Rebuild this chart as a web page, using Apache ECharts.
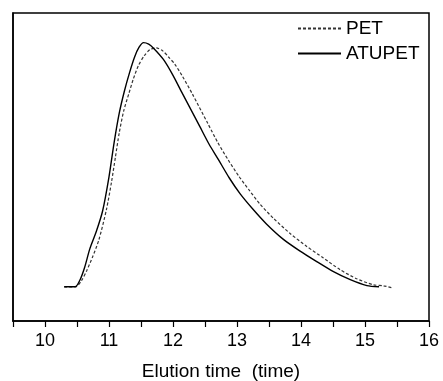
<!DOCTYPE html>
<html>
<head>
<meta charset="utf-8">
<script src="https://cdn.jsdelivr.net/npm/echarts@6/dist/echarts.min.js"></script>
<style>
  html, body { margin: 0; padding: 0; background: #fff; }
  #chart { width: 443px; height: 381px; }
</style>
</head>
<body>
<div id="chart"></div>
<script>
// elution curves, signal in arbitrary units (baseline = 0, ATUPET peak = 1)
var petTime = [10.30, 10.48, 10.57, 10.65, 10.74, 10.84, 10.96, 11.04, 11.10, 11.16, 11.23, 11.31, 11.38, 11.46, 11.55, 11.64, 11.74, 11.84, 11.93, 12.03, 12.15, 12.30, 12.55, 12.70, 12.86, 13.03, 13.20, 13.36, 13.57, 13.83, 14.09, 14.35, 14.61, 14.87, 15.13, 15.29, 15.43];
var petSignal = [0, 0, 0.025, 0.065, 0.12, 0.19, 0.316, 0.43, 0.53, 0.63, 0.72, 0.79, 0.85, 0.905, 0.945, 0.970, 0.977, 0.965, 0.94, 0.91, 0.86, 0.79, 0.665, 0.59, 0.52, 0.452, 0.392, 0.338, 0.280, 0.218, 0.165, 0.118, 0.07, 0.033, 0.008, 0.004, -0.005];

var atupetTime = [10.30, 10.47, 10.55, 10.62, 10.70, 10.80, 10.90, 11.00, 11.08, 11.16, 11.24, 11.32, 11.40, 11.47, 11.54, 11.62, 11.70, 11.85, 12.00, 12.14, 12.28, 12.42, 12.56, 12.71, 12.88, 13.05, 13.25, 13.46, 13.72, 13.98, 14.24, 14.50, 14.77, 15.03, 15.22];
var atupetSignal = [0, 0, 0.03, 0.08, 0.155, 0.225, 0.31, 0.45, 0.59, 0.71, 0.80, 0.875, 0.94, 0.98, 0.999, 0.993, 0.975, 0.93, 0.865, 0.794, 0.725, 0.655, 0.585, 0.52, 0.445, 0.38, 0.317, 0.257, 0.195, 0.147, 0.104, 0.063, 0.029, 0.005, 0];

var xMin = 9.5, xMax = 16, xStep = 0.5;
var seriesNames = ['PET', 'ATUPET'];

function pairs(xs, ys) {
  var out = [];
  for (var i = 0; i < xs.length; i++) out.push([xs[i], ys[i]]);
  return out;
}

var chart = echarts.init(document.getElementById('chart'));
chart.setOption({
  animation: false,
  textStyle: { fontFamily: 'Liberation Sans, Arial, sans-serif' },
  grid: {
    left: 13, right: 14, top: 13, bottom: 60,
    outerBoundsMode: 'none',
    containLabel: false,
    show: true, borderColor: '#000', borderWidth: 1.5, backgroundColor: 'transparent'
  },
  legend: {
    data: seriesNames,
    orient: 'vertical',
    left: 297, top: 19,
    itemWidth: 43, itemHeight: 14, itemGap: 6,
    itemStyle: { opacity: 0 },
    textStyle: { fontSize: 19, color: '#000' },
    padding: 0
  },
  xAxis: {
    type: 'value',
    min: xMin, max: xMax, interval: xStep,
    name: 'Elution time  (time)',
    nameLocation: 'middle',
    nameGap: 41,
    nameTextStyle: { fontSize: 19, color: '#000' },
    axisLine: { onZero: false, lineStyle: { color: '#000', width: 1.5 } },
    axisTick: { show: true, length: 6, lineStyle: { color: '#000', width: 1.2 } },
    axisLabel: {
      fontSize: 18, color: '#000', margin: 11,
      showMinLabel: true, showMaxLabel: true,
      formatter: function (v) { return Math.abs(v - Math.round(v)) < 1e-6 ? String(Math.round(v)) : ''; }
    },
    splitLine: { show: false }
  },
  yAxis: {
    type: 'value',
    min: -0.14, max: 1.12,
    axisLine: { show: true, onZero: false, lineStyle: { color: '#000', width: 1.5 } },
    axisTick: { show: false },
    axisLabel: { show: false },
    splitLine: { show: false }
  },
  series: [
    {
      name: 'PET',
      type: 'line',
      data: pairs(petTime, petSignal),
      smooth: 0.25,
      symbol: 'none',
      lineStyle: { color: '#333', width: 1.2, type: [3, 2] },
      itemStyle: { color: '#333' }
    },
    {
      name: 'ATUPET',
      type: 'line',
      data: pairs(atupetTime, atupetSignal),
      smooth: 0.25,
      symbol: 'none',
      lineStyle: { color: '#000', width: 1.4 },
      itemStyle: { color: '#000' }
    }
  ]
});
</script>
</body>
</html>
